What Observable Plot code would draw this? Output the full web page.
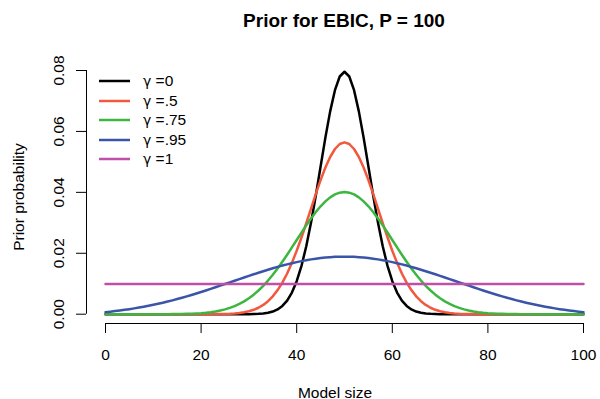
<!DOCTYPE html>
<html><head><meta charset="utf-8">
<script src="https://cdn.jsdelivr.net/npm/d3@7"></script>
<script src="https://cdn.jsdelivr.net/npm/@observablehq/plot@0.6"></script>
<style>
body{margin:0;background:#fff;font-family:"Liberation Sans",Arial,Helvetica,sans-serif;}
#wrap{position:relative;width:600px;}
#title{margin-left:105px;width:478px;height:40px;text-align:center;font-weight:bold;font-size:19px;line-height:42px;color:#000;}
#chart svg{font-family:"Liberation Sans",Arial,Helvetica,sans-serif;}
#legend{position:absolute;left:99px;top:71.2px;font-size:15.5px;color:#000;}
.row{height:19.6px;display:flex;align-items:center;}
.row svg{margin-right:13px;display:block;}
.g{font-family:"DejaVu Sans",sans-serif;font-size:14px;}
</style>
</head><body>
<div id="wrap">
  <div id="title"></div>
  <div id="chart"></div>
  <div id="legend"></div>
</div>
<script>
const titleText = "Prior for EBIC, P = 100";
const xLabel = "Model size";
const yLabel = "Prior probability";
const xTicks = [0, 20, 40, 60, 80, 100];
const yTicks = [0, 0.02, 0.04, 0.06, 0.08];
const seriesLabels = ["γ =0", "γ =.5", "γ =.75", "γ =.95", "γ =1"];
const seriesColors = ["#000000", "#F2583E", "#3DB63F", "#3A55A8", "#BF4FA8"];

// model sizes 0..100
const sizes = d3.range(0, 101);

const gamma0 = [
0,0,0,0,0,0,0,0,0,0,
0,0,0,0,0,0,0,0,0,0,
0,0,0,0,0,0,0,0,0,0.00001,
0.00002,0.00005,0.00011,0.00023,0.00046,0.00086,0.00156,0.00271,0.00448,0.00711,
0.01084,0.01587,0.02229,0.03007,0.03895,0.04847,0.05796,0.06659,0.07353,0.07803,
0.07959,
0.07803,0.07353,0.06659,0.05796,0.04847,0.03895,0.03007,0.02229,0.01587,0.01084,
0.00711,0.00448,0.00271,0.00156,0.00086,0.00046,0.00023,0.00011,0.00005,0.00002,
0.00001,0,0,0,0,0,0,0,0,0,
0,0,0,0,0,0,0,0,0,0,
0,0,0,0,0,0,0,0,0,0
];

const gamma05 = [
0,0,0,0,0,0,0,0,0,0,
0,0,0,0,0,0,0,0,0,0,
0,0.00001,0.00002,0.00003,0.00005,0.00009,0.00015,0.00025,0.00040,0.00063,
0.00096,0.00145,0.00212,0.00305,0.00428,0.00588,0.00790,0.01039,0.01337,0.01686,
0.02083,0.02519,0.02986,0.03468,0.03947,0.04403,0.04815,0.05161,0.05423,0.05587,
0.05642,
0.05587,0.05423,0.05161,0.04815,0.04403,0.03947,0.03468,0.02986,0.02519,0.02083,
0.01686,0.01337,0.01039,0.00790,0.00588,0.00428,0.00305,0.00212,0.00145,0.00096,
0.00063,0.00040,0.00025,0.00015,0.00009,0.00005,0.00003,0.00002,0.00001,0,
0,0,0,0,0,0,0,0,0,0,
0,0,0,0,0,0,0,0,0,0
];

const gamma075 = [
0,0,0,0,0,0,0,0,0,0,
0,0,0.00001,0.00002,0.00003,0.00005,0.00008,0.00011,0.00017,0.00024,
0.00034,0.00048,0.00066,0.00089,0.00120,0.00158,0.00206,0.00265,0.00336,0.00422,
0.00524,0.00642,0.00778,0.00932,0.01105,0.01294,0.01500,0.01721,0.01952,0.02192,
0.02436,0.02680,0.02917,0.03144,0.03354,0.03543,0.03704,0.03835,0.03932,0.03990,
0.04010,
0.03990,0.03932,0.03835,0.03704,0.03543,0.03354,0.03144,0.02917,0.02680,0.02436,
0.02192,0.01952,0.01721,0.01500,0.01294,0.01105,0.00932,0.00778,0.00642,0.00524,
0.00422,0.00336,0.00265,0.00206,0.00158,0.00120,0.00089,0.00066,0.00048,0.00034,
0.00024,0.00017,0.00011,0.00008,0.00005,0.00003,0.00002,0.00001,0,0,
0,0,0,0,0,0,0,0,0,0
];

const gamma095 = [
0.00067,0.00084,0.00103,0.00122,0.00143,0.00166,0.00191,0.00217,0.00245,0.00276,
0.00308,0.00342,0.00378,0.00416,0.00455,0.00497,0.00540,0.00585,0.00632,0.00680,
0.00729,0.00779,0.00831,0.00883,0.00936,0.00990,0.01043,0.01097,0.01151,0.01205,
0.01258,0.01310,0.01361,0.01412,0.01460,0.01507,0.01552,0.01596,0.01636,0.01675,
0.01710,0.01743,0.01773,0.01800,0.01823,0.01843,0.01860,0.01873,0.01882,0.01888,
0.01890,
0.01888,0.01882,0.01873,0.01860,0.01843,0.01823,0.01800,0.01773,0.01743,0.01710,
0.01675,0.01636,0.01596,0.01552,0.01507,0.01460,0.01412,0.01361,0.01310,0.01258,
0.01205,0.01151,0.01097,0.01043,0.00990,0.00936,0.00883,0.00831,0.00779,0.00729,
0.00680,0.00632,0.00585,0.00540,0.00497,0.00455,0.00416,0.00378,0.00342,0.00308,
0.00276,0.00245,0.00217,0.00191,0.00166,0.00143,0.00122,0.00103,0.00084,0.00067
];

const gamma1Sizes = [0, 100];
const gamma1 = [0.0099, 0.0099];

const rows = [];
[[sizes, gamma0], [sizes, gamma05], [sizes, gamma075], [sizes, gamma095], [gamma1Sizes, gamma1]]
  .forEach(([xs, ys], i) => xs.forEach((s, j) => rows.push({size: s, value: ys[j], series: seriesLabels[i]})));

document.getElementById("title").textContent = titleText;

const yFmt = d3.format(".2f");
const chart = Plot.plot({
  width: 600,
  height: 359,
  marginTop: 30,
  marginBottom: 76,
  marginLeft: 86,
  marginRight: 17,
  x: {domain: [d3.min(xTicks), d3.max(xTicks)], insetLeft: 19},
  y: {domain: [d3.min(yTicks), d3.max(yTicks)], insetBottom: 9.3},
  color: {domain: seriesLabels, range: seriesColors},
  marks: [
    // y axis: line, ticks at the frame's left edge, rotated labels
    Plot.ruleX([d3.min(xTicks)], {y1: d3.min(yTicks), y2: d3.max(yTicks), dx: -19, stroke: "#000000", strokeWidth: 1}),
    Plot.axisY({ticks: yTicks, tickSize: 10, label: null, tickFormat: () => "", stroke: "#000000", strokeWidth: 1}),
    Plot.text(yTicks, {y: (d) => d, text: (d) => yFmt(d), frameAnchor: "left", dx: -23, rotate: -90,
      textAnchor: "middle", lineAnchor: "bottom", fontSize: 15.5, fill: "black"}),
    // x axis: line, ticks at the frame's bottom edge, labels
    Plot.ruleY([d3.min(yTicks)], {x1: d3.min(xTicks), x2: d3.max(xTicks), dy: 9.3, stroke: "black", strokeWidth: 1}),
    Plot.axisX({ticks: xTicks, tickSize: 10, tickPadding: 15, label: null, fontSize: 15.5, stroke: "black", fill: "black"}),
    // series
    Plot.line(rows, {x: "size", y: "value", z: "series", stroke: "series", strokeWidth: 2.5, curve: "linear"}),
    // axis titles
    Plot.text([yLabel], {frameAnchor: "left", textAnchor: "middle", dx: -67, rotate: -90, fontSize: 15.5, fill: "black"}),
    Plot.text([xLabel], {frameAnchor: "bottom", textAnchor: "middle", lineAnchor: "bottom", dy: 74, fontSize: 15.5, fill: "black"})
  ]
});
document.getElementById("chart").appendChild(chart);

const legend = document.getElementById("legend");
const ns = "http://www.w3.org/2000/svg";
seriesLabels.forEach((lab, i) => {
  const row = document.createElement("div");
  row.className = "row";
  const sw = document.createElementNS(ns, "svg");
  sw.setAttribute("width", 31);
  sw.setAttribute("height", 20);
  const ln = document.createElementNS(ns, "line");
  ln.setAttribute("x1", 0); ln.setAttribute("x2", 31);
  ln.setAttribute("y1", 10); ln.setAttribute("y2", 10);
  ln.setAttribute("stroke", seriesColors[i]);
  ln.setAttribute("stroke-width", 2.5);
  sw.appendChild(ln);
  const t = document.createElement("span");
  const g = document.createElement("span");
  g.className = "g";
  g.textContent = lab.slice(0, 1);
  t.appendChild(g);
  t.appendChild(document.createTextNode(lab.slice(1)));
  row.appendChild(sw);
  row.appendChild(t);
  legend.appendChild(row);
});
</script>
</body></html>
